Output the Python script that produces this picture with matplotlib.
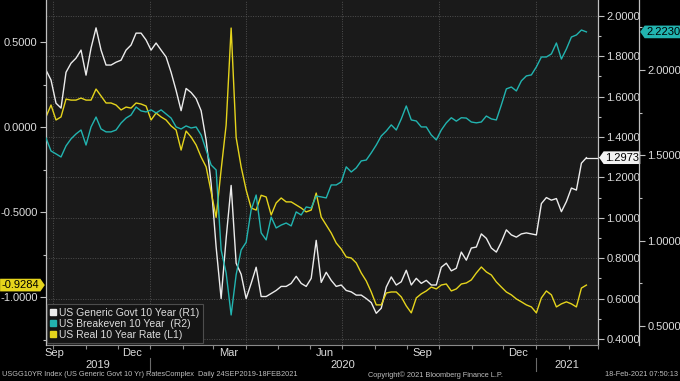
import matplotlib
matplotlib.use('Agg')
import pandas as pd
import matplotlib.pyplot as plt
import matplotlib.dates as mdates
from matplotlib import font_manager
from matplotlib.lines import Line2D
from matplotlib.path import Path
from matplotlib.ticker import MultipleLocator, FormatStrFormatter, NullFormatter
from matplotlib.transforms import blended_transform_factory

# --- data (~every 4.75 days) ---
START, END = '2019-09-24', '2021-02-18'
X_END = '2021-03-01'

us10y = [
    1.731, 1.682, 1.567, 1.543, 1.72, 1.765, 1.79, 1.83, 1.706, 1.84,
    1.94, 1.83, 1.756, 1.756, 1.77, 1.78, 1.83, 1.855, 1.914, 1.914,
    1.88, 1.83, 1.865, 1.83, 1.796, 1.72, 1.63, 1.53, 1.64, 1.62,
    1.59, 1.53, 1.385, 1.17, 0.855, 0.60, 0.898, 1.16, 0.775, 0.72,
    0.60, 0.675, 0.755, 0.61, 0.61, 0.625, 0.64, 0.66, 0.66, 0.675,
    0.71, 0.675, 0.66, 0.70, 0.888, 0.68, 0.73, 0.69, 0.66, 0.667,
    0.64, 0.633, 0.617, 0.617, 0.60, 0.58, 0.527, 0.552, 0.657, 0.707,
    0.667, 0.683, 0.74, 0.667, 0.70, 0.675, 0.69, 0.667, 0.667, 0.755,
    0.775, 0.737, 0.75, 0.83, 0.79, 0.85, 0.855, 0.92, 0.898, 0.85,
    0.83, 0.88, 0.94, 0.915, 0.904, 0.92, 0.925, 0.92, 0.915, 1.07,
    1.10, 1.087, 1.095, 1.03, 1.08, 1.147, 1.137, 1.27, 1.2973,
]

breakeven10y = [
    1.601, 1.525, 1.508, 1.49, 1.555, 1.596, 1.625, 1.648, 1.56, 1.666,
    1.724, 1.654, 1.637, 1.637, 1.648, 1.689, 1.718, 1.736, 1.783, 1.76,
    1.754, 1.766, 1.748, 1.766, 1.742, 1.718, 1.666, 1.654, 1.672, 1.66,
    1.666, 1.619, 1.531, 1.443, 1.414, 0.945, 0.81, 0.564, 0.80, 0.945,
    0.99, 1.18, 1.267, 1.045, 1.004, 1.138, 1.074, 1.091, 1.103, 1.086,
    1.168, 1.15, 1.197, 1.191, 1.261, 1.256, 1.25, 1.326, 1.326, 1.344,
    1.432, 1.402, 1.426, 1.467, 1.472, 1.514, 1.56, 1.613, 1.642, 1.678,
    1.648, 1.713, 1.789, 1.707, 1.701, 1.666, 1.666, 1.619, 1.59, 1.648,
    1.69, 1.72, 1.70, 1.72, 1.718, 1.695, 1.69, 1.695, 1.73, 1.713,
    1.707, 1.795, 1.889, 1.9, 1.877, 1.936, 1.965, 1.971, 2.018, 2.076,
    2.076, 2.094, 2.158, 2.064, 2.123, 2.193, 2.205, 2.234, 2.2230,
]

real10y = [
    0.061, 0.131, 0.043, 0.061, 0.166, 0.16, 0.16, 0.172, 0.16, 0.16,
    0.225, 0.184, 0.143, 0.143, 0.131, 0.102, 0.119, 0.113, 0.143, 0.137,
    0.125, 0.043, 0.084, 0.061, 0.043, 0.008, -0.016, -0.134, -0.022, -0.057,
    -0.104, -0.175, -0.233, -0.38, -0.53, -0.25, 0.013, 0.584, -0.06, -0.233,
    -0.369, -0.475, -0.487, -0.40, -0.41, -0.516, -0.445, -0.416, -0.439, -0.439,
    -0.457, -0.475, -0.498, -0.487, -0.387, -0.528, -0.575, -0.622, -0.681, -0.716,
    -0.763, -0.769, -0.798, -0.857, -0.904, -0.969, -1.045, -1.045, -0.975, -0.969,
    -0.969, -0.998, -1.051, -1.092, -1.004, -0.98, -0.963, -0.94, -0.951, -0.928,
    -0.922, -0.963, -0.951, -0.922, -0.916, -0.898, -0.857, -0.822, -0.851, -0.869,
    -0.91, -0.94, -0.969, -0.986, -1.01, -1.027, -1.045, -1.057, -1.092, -1.004,
    -0.963, -0.986, -1.057, -1.039, -1.027, -1.039, -1.057, -0.946, -0.9284,
]

series_names = ['US Generic Govt 10 Year (R1)', 'US Breakeven 10 Year  (R2)',
                'US Real 10 Year Rate (L1)']
month_labels = ['Sep', 'Dec', 'Mar', 'Jun', 'Sep', 'Dec']
month_label_dates = ['2019-10-02', '2019-12-15', '2020-03-15', '2020-06-15',
                     '2020-09-15', '2020-12-15']
year_labels = ['2019', '2020', '2021']
year_breaks = ['2020-01-01', '2021-01-01']
footer_left = 'USGG10YR Index (US Generic Govt 10 Yr) RatesComplex  Daily 24SEP2019-18FEB2021'
footer_mid = 'Copyright\u00a9 2021 Bloomberg Finance L.P.'
footer_right = '18-Feb-2021 07:50:13'

WHITE = '#ececec'
CYAN = '#22b4b0'
YELLOW = '#e5d41c'
TEXT = '#dcdcdc'
SPINE = '#c0c0c0'
R2_POS = 1 + 41 / 552

available = {f.name for f in font_manager.fontManager.ttflist}
FONT = 'Liberation Sans Narrow' if 'Liberation Sans Narrow' in available else 'Liberation Sans'
plt.rcParams['font.family'] = [FONT, 'DejaVu Sans']
FS = 9 if FONT.endswith('Narrow') else 8


def tag_box(point):
    """Bloomberg style value tag: a box with a small point on one side."""
    def style(x0, y0, width, height, mutation_size):
        pad = 0.12 * mutation_size
        x0, y0 = x0 - pad, y0 - pad
        width, height = width + 2 * pad, height + 2 * pad
        tip = height * 0.35
        if point == 'left':
            verts = [(x0, y0), (x0 + width, y0), (x0 + width, y0 + height),
                     (x0, y0 + height), (x0 - tip, y0 + height / 2), (x0, y0)]
        else:
            verts = [(x0, y0), (x0 + width, y0), (x0 + width + tip, y0 + height / 2),
                     (x0 + width, y0 + height), (x0, y0 + height), (x0, y0)]
        return Path(verts, closed=True)
    return style


fig = plt.figure(figsize=(6.8, 3.81), dpi=100, facecolor='black')
ax = fig.add_axes([46 / 680, 36 / 381, 552 / 680, 345 / 381])
axl = ax.twinx()
axc = ax.twinx()
ax.set_facecolor('#1a1a1a')

dates = pd.date_range(START, END, periods=len(us10y))
x0, x1 = pd.Timestamp(START), pd.Timestamp(X_END)

ax.plot(dates, us10y, color=WHITE, lw=1.0)
axl.plot(dates, real10y, color=YELLOW, lw=1.0)
axc.plot(dates, breakeven10y, color=CYAN, lw=1.0)
# leader from last white point to its tag
ax.plot([dates[-1], x1], [us10y[-1]] * 2, color=WHITE, lw=0.9, clip_on=False)

ax.set_xlim(x0, x1)
ax.set_ylim(0.370, 2.078)
axl.set_ylim(-1.281, 0.749)
axc.set_ylim(0.388, 2.410)

for a in (ax, axl, axc):
    for s in a.spines.values():
        s.set_visible(False)
ax.spines['right'].set_visible(True)
ax.spines['bottom'].set_visible(True)
ax.spines['bottom'].set_color('#8a8a8a')
axl.spines['left'].set_visible(True)
axc.spines['right'].set_visible(True)
axc.spines['right'].set_position(('axes', R2_POS))
for s in (ax.spines['right'], axl.spines['left'], axc.spines['right']):
    s.set_color(SPINE)
    s.set_linewidth(0.9)

ax.yaxis.tick_right()
axl.yaxis.tick_left()
axc.yaxis.tick_right()

for a, major, minor in ((ax, 0.2, 0.1), (axl, 0.5, 0.25), (axc, 0.5, 0.25)):
    a.yaxis.set_major_locator(MultipleLocator(major))
    a.yaxis.set_minor_locator(MultipleLocator(minor))
    a.yaxis.set_major_formatter(FormatStrFormatter('%.4f'))
    a.tick_params(axis='y', which='major', length=4, width=0.8, color=SPINE,
                  labelcolor=TEXT, labelsize=FS, pad=2)
    a.tick_params(axis='y', which='minor', length=2.5, width=0.8, color=SPINE)

ax.xaxis.set_major_locator(mdates.MonthLocator(bymonth=[1, 4, 7, 10]))
ax.xaxis.set_minor_locator(mdates.MonthLocator())
ax.xaxis.set_major_formatter(NullFormatter())
ax.xaxis.set_minor_formatter(NullFormatter())
ax.tick_params(axis='x', which='both', length=3, width=0.8, color='#8a8a8a')

ax.set_axisbelow(True)
ax.grid(True, which='major', color='#4f4f4f', linestyle=(0, (1, 1.5)), linewidth=0.7)

# month and year labels under the axis
trans = blended_transform_factory(ax.transData, ax.transAxes)
for lbl, d in zip(month_labels, month_label_dates):
    ax.text(mdates.date2num(pd.Timestamp(d)), -0.024, lbl, transform=trans,
            ha='center', va='center', color=TEXT, fontsize=FS)
bounds = [x0] + [pd.Timestamp(b) for b in year_breaks] + [x1]
for lbl, a, b in zip(year_labels, bounds[:-1], bounds[1:]):
    ax.text(mdates.date2num(a + (b - a) / 2), -0.058, lbl, transform=trans,
            ha='center', va='center', color=TEXT, fontsize=FS)
for b in year_breaks:
    xb = mdates.date2num(pd.Timestamp(b))
    ax.plot([xb, xb], [-0.038, -0.076], transform=trans, color='#6a6a6a',
            lw=0.8, clip_on=False)

# legend
handles = [Line2D([], [], ls='none', marker='s', ms=5, mfc=c, mec=c)
           for c in (WHITE, CYAN, YELLOW)]
leg = axc.legend(handles, series_names, loc='lower left', bbox_to_anchor=(0.002, 0.005),
                 fontsize=FS - 0.5, frameon=True, fancybox=False, facecolor='#141414',
                 edgecolor='#4d4d4d', framealpha=1, labelcolor=TEXT, handlelength=0.5,
                 handletextpad=0.3, labelspacing=0.1, borderpad=0.35, borderaxespad=0)
leg.get_frame().set_linewidth(0.8)

# last value tags
tag_kw = dict(fontsize=FS, color='black', va='center', annotation_clip=False,
              zorder=10, textcoords='offset points')
ax.annotate('%.4f' % us10y[-1], xy=(1, us10y[-1]), xycoords=('axes fraction', 'data'),
            xytext=(5, 0), ha='left',
            bbox=dict(boxstyle=tag_box('left'), fc='#f2f2f2', ec='none'), **tag_kw)
axc.annotate('%.4f' % breakeven10y[-1], xy=(R2_POS, breakeven10y[-1]),
             xycoords=('axes fraction', 'data'), xytext=(5, 0), ha='left',
             bbox=dict(boxstyle=tag_box('left'), fc=CYAN, ec='none'), **tag_kw)
axl.annotate('%.4f' % real10y[-1], xy=(0, real10y[-1]), xycoords=('axes fraction', 'data'),
             xytext=(-5, 0), ha='right',
             bbox=dict(boxstyle=tag_box('right'), fc=YELLOW, ec='none'), **tag_kw)

fig.text(0.003, 0.016, footer_left, fontsize=5.3, color='#bdbdbd', ha='left', va='center')
fig.text(435 / 680, 0.016, footer_mid, fontsize=5.3, color='#bdbdbd', ha='center', va='center')
fig.text(0.997, 0.016, footer_right, fontsize=5.3, color='#bdbdbd', ha='right', va='center')

fig.savefig('out.png', dpi=100, facecolor='black')
